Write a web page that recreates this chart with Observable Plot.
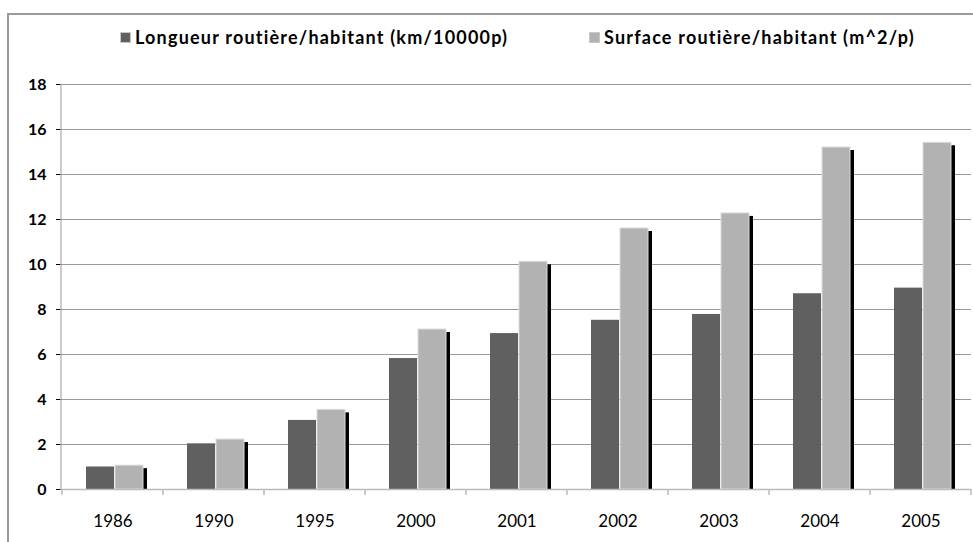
<!DOCTYPE html>
<html>
<head>
<meta charset="utf-8">
<script src="https://cdn.jsdelivr.net/npm/d3@7"></script>
<script src="https://cdn.jsdelivr.net/npm/@observablehq/plot@0.6"></script>
<style>
  body { margin: 0; width: 973px; height: 542px; overflow: hidden; position: relative; background: #fff; font-family: Lato, sans-serif; }
  #border { position: absolute; left: 7px; top: 13px; width: 990px; height: 600px; border-left: 2px solid #9a9a9a; border-top: 2px solid #9a9a9a; }
  .legend { position: absolute; top: 26px; display: flex; align-items: center; font-weight: bold; font-size: 18px; letter-spacing: 1.2px; color: #000; white-space: nowrap; }
  .sw { width: 11px; height: 11px; box-sizing: border-box; border: 1px solid #c8c8c8; margin-right: 4px; }
  #chart { position: absolute; left: 0; top: 60px; }
</style>
</head>
<body>
<div id="border"></div>
<div id="leg1" class="legend" style="left:120px"></div>
<div id="leg2" class="legend" style="left:589px"></div>
<div id="chart"></div>
<script>
const years = ["1986", "1990", "1995", "2000", "2001", "2002", "2003", "2004", "2005"];
const seriesNames = ["Longueur routière/habitant (km/10000p)", "Surface routière/habitant (m^2/p)"];
const longueur = [1.0, 2.03, 3.07, 5.82, 6.93, 7.52, 7.78, 8.7, 8.95];
const surface = [1.06, 2.22, 3.54, 7.11, 10.12, 11.6, 12.27, 15.2, 15.41];
const yTicks = [0, 2, 4, 6, 8, 10, 12, 14, 16, 18];
const colors = ["#606060", "#b2b2b2"];

const rows = [];
years.forEach((y, i) => {
  rows.push({year: y, series: seriesNames[0], value: longueur[i]});
  rows.push({year: y, series: seriesNames[1], value: surface[i]});
});
const surfRows = rows.filter(d => d.series === seriesNames[1]);
const longRows = rows.filter(d => d.series === seriesNames[0]);

// legend
[["leg1", 0], ["leg2", 1]].forEach(([id, i]) => {
  const el = document.getElementById(id);
  const sw = document.createElement("div");
  sw.className = "sw";
  sw.style.background = colors[i];
  el.appendChild(sw);
  const t = document.createElement("span");
  t.textContent = seriesNames[i];
  el.appendChild(t);
});

const plot = Plot.plot({
  width: 973,
  height: 482,
  marginTop: 24,
  marginBottom: 53,
  marginLeft: 61,
  marginRight: 2,
  style: {fontFamily: "Lato, sans-serif", fontSize: "16px", color: "#000", background: "transparent", overflow: "visible"},
  fx: {domain: years, padding: 0, axis: "bottom", label: null, tickSize: 0, tickPadding: 25},
  x: {domain: seriesNames, paddingInner: 0.04, paddingOuter: 0.72, align: 0.54, axis: null},
  y: {domain: [0, 18], ticks: yTicks, tickSize: 6, tickPadding: 10, label: null, tickFormat: d => String(d)},
  marks: [
    Plot.ruleY(yTicks.filter(d => d > 0), {stroke: "#999", strokeWidth: 1}),
    Plot.barY(surfRows, {fx: "year", x: "series", y: "value", fill: "#000", dx: 4, dy: 3, insetBottom: 3}),
    Plot.barY(longRows, {fx: "year", x: "series", y: "value", fill: colors[0]}),
    Plot.barY(surfRows, {fx: "year", x: "series", y: "value", fill: colors[1], stroke: "#dcdcdc", strokeWidth: 1}),
    Plot.ruleY([0], {stroke: "#bbb", strokeWidth: 1.5})
  ]
});
document.getElementById("chart").appendChild(plot);

const svg = d3.select(plot);
svg.selectAll('g[aria-label^="y-axis"] text')
  .attr("font-weight", "bold").attr("font-size", "16px").attr("fill", "#000").attr("stroke", "none");
svg.selectAll('g[aria-label="y-axis tick"]').attr("stroke", "#bbb");
svg.selectAll('g[aria-label="y-axis"] line, g[aria-label="y-axis"] path').attr("stroke", "#bbb");
svg.selectAll('g[aria-label^="fx-axis"] text').attr("font-size", "17px").attr("fill", "#000");

const fx = plot.scale("fx");
const ys = plot.scale("y");
const y0 = ys.apply(0);
const yTop = ys.apply(18);
const x0 = fx.range[0];
// y-axis line
svg.append("line").attr("x1", x0).attr("x2", x0).attr("y1", yTop).attr("y2", y0 + 1)
  .attr("stroke", "#bbb").attr("stroke-width", 1.5);
// x boundary ticks
const bounds = years.map(y => fx.apply(y)).concat([fx.range[1]]);
bounds.forEach(b => {
  svg.append("line").attr("x1", b).attr("x2", b).attr("y1", y0).attr("y2", y0 + 6)
    .attr("stroke", "#bbb").attr("stroke-width", 1.5);
});
</script>
</body>
</html>
